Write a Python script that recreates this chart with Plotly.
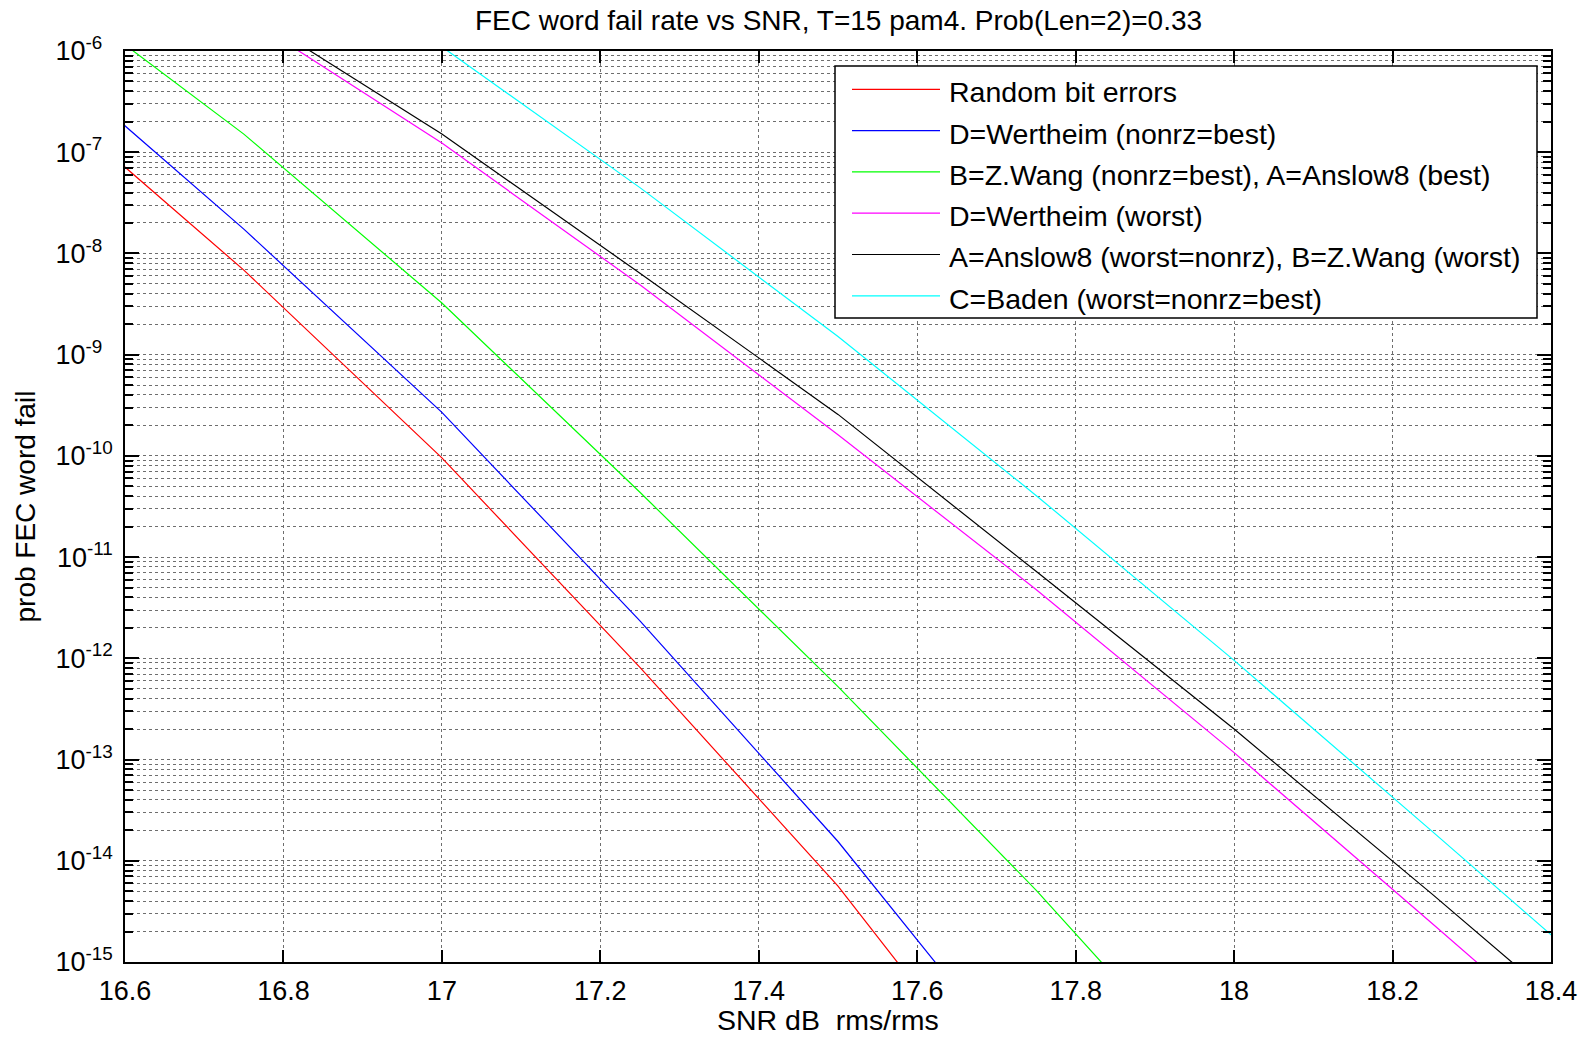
import plotly.graph_objects as go

# ---------------- data ----------------
snr_short = [16.5, 16.75, 17.0, 17.25, 17.5, 17.75]
snr_green = [16.5, 16.75, 17.0, 17.25, 17.5, 17.75, 18.0]
snr_long = [16.75, 17.0, 17.25, 17.5, 17.75, 18.0, 18.25, 18.5]

random_bit = [3.39e-7, 6.85e-9, 9.55e-11, 8.13e-13, 5.62e-15, 1.74e-17]
wertheim_best = [8.71e-7, 1.74e-8, 2.69e-10, 2.34e-12, 1.55e-14, 5.75e-17]
wang_best = [4.47e-6, 1.51e-7, 3.24e-9, 4.37e-11, 5.25e-13, 5.13e-15, 3.55e-17]
wertheim_worst = [2.24e-6, 1.23e-7, 4.90e-9, 1.62e-10, 4.79e-12, 1.17e-13, 2.40e-15, 4.79e-17]
anslow_worst = [2.60e-6, 1.51e-7, 6.38e-9, 2.57e-10, 7.24e-12, 2.00e-13, 4.68e-15, 1.00e-16]
baden = [2.0e-5, 1.10e-6, 4.47e-8, 1.51e-9, 4.07e-11, 9.55e-13, 1.95e-14, 3.89e-16]

series_names = [
    "Random bit errors",
    "D=Wertheim (nonrz=best)",
    "B=Z.Wang (nonrz=best), A=Anslow8 (best)",
    "D=Wertheim (worst)",
    "A=Anslow8 (worst=nonrz), B=Z.Wang (worst)",
    "C=Baden (worst=nonrz=best)",
]
series_x = [snr_short, snr_short, snr_green, snr_long, snr_long, snr_long]
series_y = [random_bit, wertheim_best, wang_best, wertheim_worst, anslow_worst, baden]
series_colors = ["#FF0000", "#0000FF", "#00FF00", "#FF00FF", "#000000", "#00FFFF"]

x_ticks = [16.6, 16.8, 17.0, 17.2, 17.4, 17.6, 17.8, 18.0, 18.2, 18.4]
x_ticktext = ["16.6", "16.8", "17", "17.2", "17.4", "17.6", "17.8", "18", "18.2", "18.4"]
y_exponents = list(range(-15, -5))

title_text = "FEC word fail rate vs SNR, T=15 pam4. Prob(Len=2)=0.33"
x_title = "SNR dB\u00a0 rms/rms"
y_title = "prob FEC word fail"

# ---------------- layout constants ----------------
# the page body has an 8px margin, so the figure is drawn 8px in from the corner
OFF = 8
W, H = 1591 - 2 * OFF, 1040 - 2 * OFF
PL, PR, PT, PB = 125, 1551, 51, 962          # plot area in page pixels
L, R, T, B = PL - OFF, OFF + W - PR, PT - OFF, OFF + H - PB
PW, PH = PR - PL, PB - PT
FONT = "Liberation Sans, Arial, Helvetica, sans-serif"
FS_TICK = 27
FS_TXT = 28
FS_LEG = 28.5


def px2paper_x(px):
    return (px - PL) / PW


def px2paper_y(py):
    return (PB - py) / PH


hidden = "<span style='color:rgba(0,0,0,0)'>0</span>"
y_tickvals = [10.0 ** e for e in y_exponents]
y_ticktext = ["10<sup>%d%s</sup>" % (e, hidden if e > -10 else "") for e in y_exponents]
y_minor = [m * 10.0 ** e for e in y_exponents[:-1] for m in range(2, 10)]

fig = go.Figure()
for nm, xs, ys, col in zip(series_names, series_x, series_y, series_colors):
    fig.add_trace(go.Scatter(x=xs, y=ys, mode="lines", name=nm,
                             line=dict(color=col, width=1.2), showlegend=False))

grid_col = "#6e6e6e"
fig.update_layout(
    width=W, height=H, autosize=False,
    margin=dict(l=L, r=R, t=T, b=B, pad=0),
    paper_bgcolor="white", plot_bgcolor="white",
    font=dict(family=FONT, size=FS_TXT, color="black"),
    showlegend=False,
    xaxis=dict(
        range=[16.6, 18.4], tickmode="array", tickvals=x_ticks, ticktext=x_ticktext,
        ticks="inside", ticklen=12, tickwidth=1.5, tickcolor="black",
        showline=True, linecolor="black", linewidth=1.5, mirror="ticks",
        showgrid=True, gridcolor=grid_col, griddash="dot", gridwidth=1,
        zeroline=False, tickfont=dict(size=FS_TICK, family=FONT),
        ticklabelstandoff=4, automargin=False,
    ),
    yaxis=dict(
        type="log", range=[-15, -6], tickmode="array", tickvals=y_tickvals, ticktext=y_ticktext,
        ticks="inside", ticklen=14, tickwidth=1.5, tickcolor="black",
        showline=True, linecolor="black", linewidth=1.5, mirror="ticks",
        showgrid=True, gridcolor=grid_col, griddash="dot", gridwidth=1,
        zeroline=False, tickfont=dict(size=FS_TICK, family=FONT),
        ticklabelstandoff=5, automargin=False,
        minor=dict(tickmode="array", tickvals=y_minor, ticks="inside", ticklen=8,
                   tickwidth=1.5, tickcolor="black", showgrid=True,
                   gridcolor=grid_col, griddash="dot", gridwidth=1),
    ),
)

annotations = [
    dict(text=title_text, xref="paper", yref="paper", x=0.5, y=1, xanchor="center",
         yanchor="middle", yshift=PT - 20, showarrow=False, font=dict(size=FS_TXT, family=FONT)),
    dict(text=x_title, xref="paper", yref="paper", x=px2paper_x(828), y=0, xanchor="center",
         yanchor="middle", yshift=-(1020 - PB), showarrow=False,
         font=dict(size=FS_LEG, family=FONT)),
    dict(text=y_title, xref="paper", yref="paper", x=px2paper_x(25), y=0.5, xanchor="center",
         yanchor="middle", textangle=-90, showarrow=False, font=dict(size=FS_TXT, family=FONT)),
]

# custom legend box (MATLAB style)
lg_x0, lg_y0, lg_x1, lg_y1 = 835, 66, 1537, 318
shapes = [dict(type="rect", xref="paper", yref="paper",
               x0=px2paper_x(lg_x0), x1=px2paper_x(lg_x1),
               y0=px2paper_y(lg_y1), y1=px2paper_y(lg_y0),
               line=dict(color="black", width=1.5), fillcolor="white", layer="above")]
for i, (nm, col) in enumerate(zip(series_names, series_colors)):
    yy = 89.3 + 41.3 * i
    shapes.append(dict(type="line", xref="paper", yref="paper",
                       x0=px2paper_x(852), x1=px2paper_x(940),
                       y0=px2paper_y(yy), y1=px2paper_y(yy),
                       line=dict(color=col, width=1.2), layer="above"))
    annotations.append(dict(text=nm, xref="paper", yref="paper", x=px2paper_x(947),
                            y=px2paper_y(yy + 3), xanchor="left", yanchor="middle",
                            showarrow=False, font=dict(size=FS_LEG, family=FONT)))

fig.update_layout(shapes=shapes, annotations=annotations)
fig.write_html("out.html")
